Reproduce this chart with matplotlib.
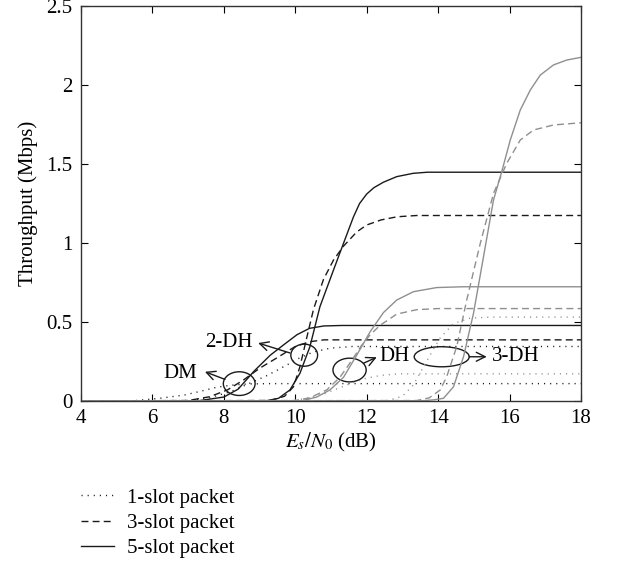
import numpy as np
import matplotlib
matplotlib.use('Agg')
import matplotlib.pyplot as plt
from matplotlib.patches import Ellipse

plt.rcParams['font.family'] = ['Liberation Serif', 'DejaVu Serif']
plt.rcParams['mathtext.fontset'] = 'stix'
plt.rcParams['font.size'] = 15

# ---- data (Es/N0 in dB, throughput in Mbps) ----
# DM packets (black)
dm1_x = [4, 5.5, 6.2, 6.9, 7.3, 7.8, 8.2, 8.7, 9.3, 18]
dm1_y = [0, 0.002, 0.017, 0.038, 0.059, 0.087, 0.1, 0.108, 0.11, 0.11]
dm3_x = [4, 7.0, 7.6, 8.1, 8.55, 9.0, 9.5, 10.0, 10.4, 10.8, 18]
dm3_y = [0, 0.003, 0.027, 0.07, 0.133, 0.207, 0.275, 0.345, 0.375, 0.387, 0.387]
dm5_x = [4, 7.3, 8.0, 8.4, 8.85, 9.3, 9.7, 10.05, 10.4, 10.8, 11.3, 18]
dm5_y = [0, 0.002, 0.025, 0.075, 0.19, 0.29, 0.36, 0.42, 0.46, 0.475, 0.478, 0.478]

# 2-DH packets (black)
dh2_1_x = [4, 7.0, 7.6, 8.2, 8.7, 9.2, 9.7, 10.1, 10.5, 11.0, 11.6, 18]
dh2_1_y = [0, 0.003, 0.02, 0.06, 0.11, 0.16, 0.22, 0.27, 0.31, 0.335, 0.345, 0.345]
dh2_3_x = [4, 9.3, 9.7, 9.95, 10.13, 10.32, 10.51, 10.79, 11.07, 11.35, 11.72, 12.0, 12.4, 12.85, 13.4, 14.2, 18]
dh2_3_y = [0, 0.003, 0.03, 0.09, 0.217, 0.40, 0.58, 0.77, 0.892, 0.98, 1.07, 1.114, 1.146, 1.166, 1.174, 1.174, 1.174]
dh2_5_x = [4, 9.2, 9.53, 9.85, 10.13, 10.41, 10.69, 11.07, 11.35, 11.63, 11.8, 12.0, 12.2, 12.47, 12.84, 13.3, 13.7, 18]
dh2_5_y = [0, 0.002, 0.017, 0.07, 0.175, 0.344, 0.597, 0.829, 0.998, 1.166, 1.25, 1.31, 1.35, 1.385, 1.42, 1.441, 1.448, 1.448]

# DH packets (grey)
dh1_x = [4, 9.8, 10.3, 10.8, 11.2, 11.6, 12.0, 12.4, 12.9, 18]
dh1_y = [0, 0.002, 0.015, 0.045, 0.08, 0.115, 0.145, 0.162, 0.172, 0.172]
dh3_x = [4, 10.0, 10.4, 10.88, 11.25, 11.53, 11.85, 12.1, 12.38, 12.84, 13.4, 14.0, 18]
dh3_y = [0, 0.003, 0.02, 0.07, 0.15, 0.24, 0.35, 0.42, 0.48, 0.55, 0.578, 0.585, 0.585]
dh5_x = [4, 10.2, 10.6, 10.97, 11.35, 11.72, 12.1, 12.47, 12.84, 13.31, 13.96, 14.7, 18]
dh5_y = [0, 0.002, 0.025, 0.07, 0.15, 0.29, 0.44, 0.56, 0.639, 0.692, 0.718, 0.723, 0.723]

# 3-DH packets (grey)
dh3_1_x = [4, 12.6, 13.0, 13.3, 13.6, 13.85, 14.06, 14.43, 14.9, 15.5, 18]
dh3_1_y = [0, 0.003, 0.03, 0.1, 0.22, 0.32, 0.40, 0.49, 0.525, 0.531, 0.531]
dh3_3_x = [4, 13.4, 13.75, 14.06, 14.24, 14.52, 14.8, 15.18, 15.55, 15.92, 16.3, 16.67, 17.23, 18]
dh3_3_y = [0, 0.003, 0.02, 0.07, 0.154, 0.344, 0.639, 0.998, 1.314, 1.504, 1.652, 1.715, 1.747, 1.761]
dh3_5_x = [4, 13.6, 13.9, 14.15, 14.43, 14.71, 14.99, 15.27, 15.55, 15.78, 16.02, 16.3, 16.58, 16.86, 17.23, 17.6, 18]
dh3_5_y = [0, 0.002, 0.008, 0.017, 0.09, 0.28, 0.555, 0.913, 1.272, 1.451, 1.652, 1.842, 1.968, 2.063, 2.127, 2.158, 2.175]

legend_labels = ['1-slot packet', '3-slot packet', '5-slot packet']
xticks = [4, 6, 8, 10, 12, 14, 16, 18]
yticks = [0, 0.5, 1, 1.5, 2, 2.5]
ytick_labels = ['0', '0.5', '1', '1.5', '2', '2.5']

black = '#1a1a1a'
grey = '#8f8f8f'
dot = (0.8, 3.6)
dash = (5, 3)
lw = 1.0

fig = plt.figure(figsize=(6.33, 5.65), dpi=100)
ax = fig.add_axes([81/633, 1-401/565, 500/633, 395/565])

# black curves
l1, = ax.plot(dm1_x, dm1_y, color=black, lw=lw, dashes=dot)
l3, = ax.plot(dm3_x, dm3_y, color=black, lw=lw, dashes=dash)
l5, = ax.plot(dm5_x, dm5_y, color=black, lw=lw)
ax.plot(dh2_1_x, dh2_1_y, color=black, lw=lw, dashes=dot)
ax.plot(dh2_3_x, dh2_3_y, color=black, lw=lw, dashes=dash)
ax.plot(dh2_5_x, dh2_5_y, color=black, lw=lw)
# grey curves
ax.plot(dh1_x, dh1_y, color=grey, lw=lw, dashes=dot)
ax.plot(dh3_x, dh3_y, color=grey, lw=lw, dashes=dash)
ax.plot(dh5_x, dh5_y, color=grey, lw=lw)
ax.plot(dh3_1_x, dh3_1_y, color=grey, lw=lw, dashes=dot)
ax.plot(dh3_3_x, dh3_3_y, color=grey, lw=lw, dashes=dash)
ax.plot(dh3_5_x, dh3_5_y, color=grey, lw=lw)

# ellipses + arrows marking the packet families
ell_kw = dict(fill=False, edgecolor=black, lw=1)
ax.add_patch(Ellipse((8.43, 0.11), 0.89, 0.15, **ell_kw))
ax.add_patch(Ellipse((10.25, 0.29), 0.75, 0.14, **ell_kw))
ax.add_patch(Ellipse((11.52, 0.196), 0.93, 0.15, **ell_kw))
ax.add_patch(Ellipse((14.1, 0.28), 1.54, 0.127, **ell_kw))

arr = dict(arrowstyle='->', lw=1, color=black, shrinkA=0, shrinkB=0, mutation_scale=16)
ax.annotate('', xy=(7.47, 0.185), xytext=(8.03, 0.137), arrowprops=arr)
ax.annotate('', xy=(8.96, 0.367), xytext=(9.85, 0.304), arrowprops=arr)
ax.annotate('', xy=(12.28, 0.277), xytext=(11.91, 0.239), arrowprops=arr)
ax.annotate('', xy=(15.36, 0.28), xytext=(14.87, 0.28), arrowprops=arr)
ax.text(7.25, 0.175, 'DM', ha='right', va='center')
ax.text(8.8, 0.37, '2-DH', ha='right', va='center')
ax.text(12.36, 0.28, 'DH', ha='left', va='center')
ax.text(15.5, 0.28, '3-DH', ha='left', va='center')

ax.set_xlim(4, 18)
ax.set_ylim(0, 2.5)
ax.set_xticks(xticks)
ax.set_yticks(yticks)
ax.set_yticklabels(ytick_labels)
ax.tick_params(direction='in', top=True, right=True, length=5, width=0.8, pad=6)
for s in ax.spines.values():
    s.set_linewidth(1)
    s.set_color('#333333')
ax.set_xlabel(r'$E_s/N_0$ (dB)', labelpad=2)
ax.set_ylabel('Throughput (Mbps)', labelpad=6)

fig.legend([l1, l3, l5], legend_labels, loc='upper left',
           bbox_to_anchor=(81/633, 1-488/565), frameon=False,
           borderpad=0, borderaxespad=0, handlelength=1.6,
           handletextpad=0.6, labelspacing=0.28)

fig.savefig('out.png', dpi=100)
